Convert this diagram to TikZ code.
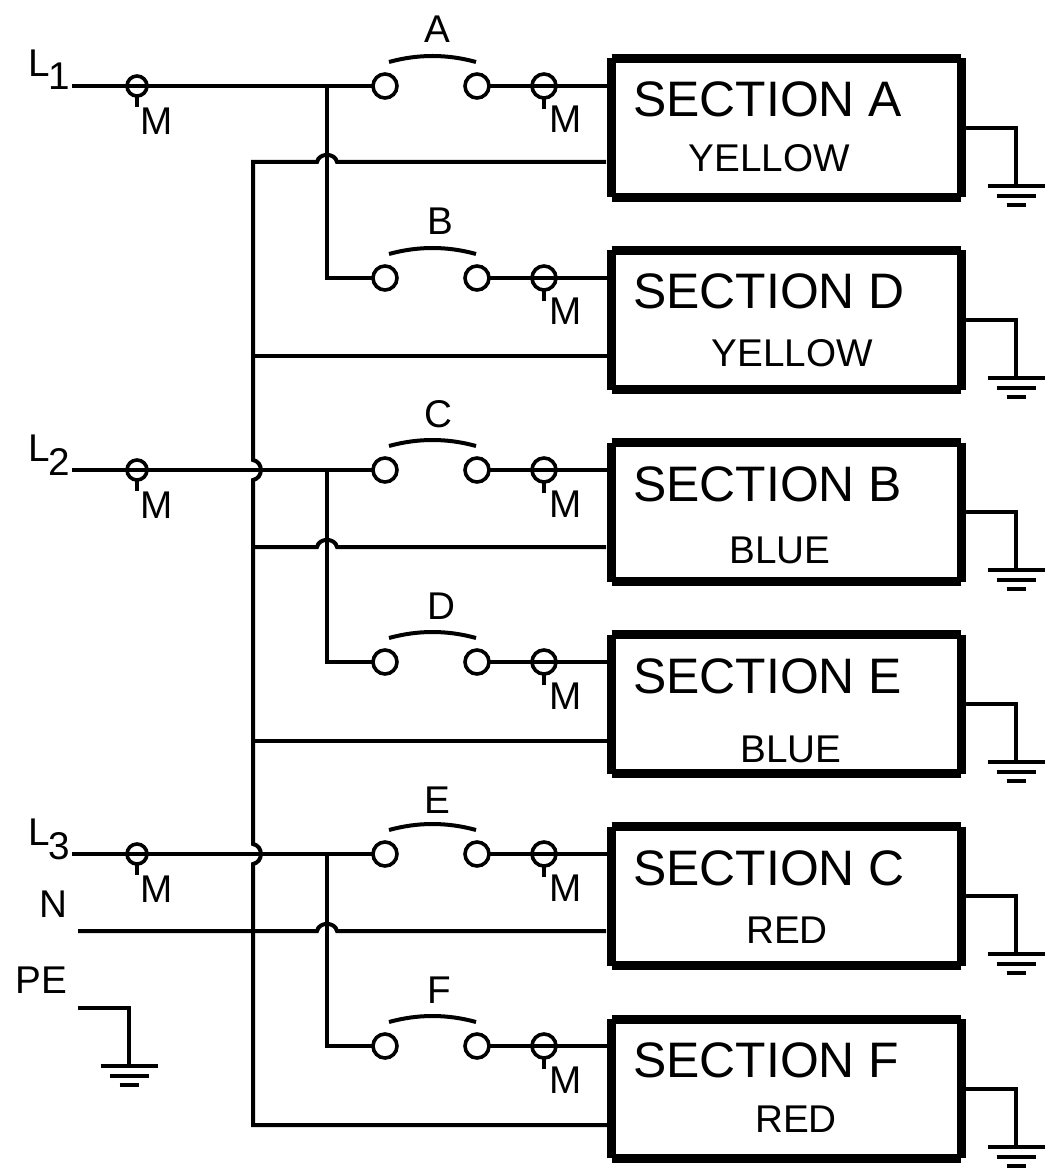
\documentclass[tikz,border=0pt]{standalone}
\usepackage{fontspec}
\setmainfont{Liberation Sans}

\tikzset{
	wire/.style={line width=3pt},
	boxedge/.style={draw,line width=6.75pt},
	sectionbox/.style={inner sep=0pt,outer sep=0pt,minimum width=262.1pt,minimum height=104.25pt,
		append after command={
			(\tikzlastnode.north west) edge[boxedge] (\tikzlastnode.north east)
			(\tikzlastnode.north east) edge[boxedge] (\tikzlastnode.south east)
			(\tikzlastnode.south east) edge[boxedge] (\tikzlastnode.south west)
			(\tikzlastnode.south west) edge[boxedge] (\tikzlastnode.north west)}},
	contact/.style={circle,draw,line width=2.7pt,inner sep=0pt,outer sep=0pt,minimum size=18pt},
	meterleft/.style={circle,draw,line width=2.7pt,inner sep=0pt,outer sep=0pt,minimum size=15pt},
	meterright/.style={circle,draw,line width=2.7pt,inner sep=0pt,outer sep=0pt,minimum size=18pt},
	txtbig/.style={anchor=base west,inner sep=0pt,font=\fontsize{37.4}{40}\selectfont},
	txtsmall/.style={anchor=base,inner sep=0pt,font=\fontsize{29}{31}\selectfont},
	groundbars/.pic={
		\draw[wire] (-28.5,0) -- (28.5,0);
		\draw[wire] (-19.5,-10) -- (19.5,-10);
		\draw[wire] (-9.5,-19) -- (9.5,-19);
	}
}

\begin{document}
\begin{tikzpicture}[x=0.75pt,y=0.75pt,yscale=-1,xscale=1]
	\useasboundingbox (0,0) rectangle (1055,1169);

	%Section boxes
	\node[sectionbox] (secA) at (786.25,127.75) {};
	\node[sectionbox] (secD) at (786.25,320) {};
	\node[sectionbox] (secB) at (786.25,512) {};
	\node[sectionbox] (secE) at (786.25,704) {};
	\node[sectionbox] (secC) at (786.25,896) {};
	\node[sectionbox] (secF) at (786.25,1088.5) {};

	%Free ends of the lines
	\coordinate (l1) at (72,86);
	\coordinate (l2) at (72,470);
	\coordinate (l3) at (72,854);
	\coordinate (neutral) at (78,931);
	\coordinate (pe) at (78,1008);
	\coordinate (jA) at (327,86);
	\coordinate (jC) at (327,470);
	\coordinate (jE) at (327,854);
	\coordinate (nA) at (606,162);
	\coordinate (nB) at (606,547);
	\coordinate (nC) at (606,931);
	\coordinate (busD) at (253,356);
	\coordinate (busB) at (253,547);
	\coordinate (busE) at (253,741);
	\coordinate (busF) at (253,1125);

	%Shape: Circle, line meters
	\node[meterleft] (mL1) at (137,86) {};
	\node[meterleft] (mL2) at (137,470) {};
	\node[meterleft] (mL3) at (137,854) {};

	%Shape: Circle, switch contacts
	\node[contact] (swA1) at (385,86) {};
	\node[contact] (swA2) at (477,86) {};
	\node[contact] (swB1) at (385,278) {};
	\node[contact] (swB2) at (477,278) {};
	\node[contact] (swC1) at (385,470) {};
	\node[contact] (swC2) at (477,470) {};
	\node[contact] (swD1) at (385,662) {};
	\node[contact] (swD2) at (477,662) {};
	\node[contact] (swE1) at (385,854) {};
	\node[contact] (swE2) at (477,854) {};
	\node[contact] (swF1) at (385,1046) {};
	\node[contact] (swF2) at (477,1046) {};

	%Shape: Circle, section meters
	\node[meterright] (mA) at (544,86) {};
	\node[meterright] (mB) at (544,278) {};
	\node[meterright] (mC) at (544,470) {};
	\node[meterright] (mD) at (544,662) {};
	\node[meterright] (mE) at (544,854) {};
	\node[meterright] (mF) at (544,1046) {};

	%Straight Lines, phases to first contacts
	\draw[wire] (l1) -- (swA1);
	\draw[wire] (l2) -- (swC1);
	\draw[wire] (l3) -- (swE1);
	\draw[wire] (jA) |- (swB1);
	\draw[wire] (jC) |- (swD1);
	\draw[wire] (jE) |- (swF1);

	%Straight Lines, second contacts to sections
	\draw[wire] (swA2) -- (secA.west |- swA2);
	\draw[wire] (swB2) -- (secD.west |- swB2);
	\draw[wire] (swC2) -- (secB.west |- swC2);
	\draw[wire] (swD2) -- (secE.west |- swD2);
	\draw[wire] (swE2) -- (secC.west |- swE2);
	\draw[wire] (swF2) -- (secF.west |- swF2);

	%Straight Lines, meter stems
	\draw[wire] (mL1.south) -- ++(0,11);
	\draw[wire] (mL2.south) -- ++(0,11);
	\draw[wire] (mL3.south) -- ++(0,11);
	\draw[wire] (mA.south) -- ++(0,11);
	\draw[wire] (mB.south) -- ++(0,11);
	\draw[wire] (mC.south) -- ++(0,11);
	\draw[wire] (mD.south) -- ++(0,11);
	\draw[wire] (mE.south) -- ++(0,11);
	\draw[wire] (mF.south) -- ++(0,11);

	%Curve Lines, switch blades
	\draw[wire] (389,62) .. controls (418,54) and (447,54) .. (476,62);
	\draw[wire] (389,254) .. controls (418,246) and (447,246) .. (476,254);
	\draw[wire] (389,446) .. controls (418,438) and (447,438) .. (476,446);
	\draw[wire] (389,638) .. controls (418,630) and (447,630) .. (476,638);
	\draw[wire] (389,830) .. controls (418,822) and (447,822) .. (476,830);
	\draw[wire] (389,1022) .. controls (418,1014) and (447,1014) .. (476,1022);

	%Neutral bus, with its jumps
	\draw[wire] (nA) -- (337,162) .. controls (335,152.5) and (319,152.5) .. (317,162) -- (253,162) -- (253,460) .. controls (263.5,462) and (263.5,478) .. (253,480) -- (253,844) .. controls (263.5,846) and (263.5,862) .. (253,864) -- (busF) -- (secF.west |- busF);
	\draw[wire] (busD) -- (secD.west |- busD);
	\draw[wire] (busB) -- (317,547) .. controls (319,537.5) and (335,537.5) .. (337,547) -- (nB);
	\draw[wire] (busE) -- (secE.west |- busE);
	\draw[wire] (neutral) -- (317,931) .. controls (319,921.5) and (335,921.5) .. (337,931) -- (nC);

	%Earth
	\coordinate (gA) at (1016,186);
	\coordinate (gD) at (1016,378);
	\coordinate (gB) at (1016,570);
	\coordinate (gE) at (1016,762);
	\coordinate (gC) at (1016,954);
	\coordinate (gF) at (1016,1147);
	\coordinate (gPE) at (129,1066);
	\draw[wire] (secA.east) -| (gA);
	\draw[wire] (secD.east) -| (gD);
	\draw[wire] (secB.east) -| (gB);
	\draw[wire] (secE.east) -| (gE);
	\draw[wire] (secC.east) -| (gC);
	\draw[wire] (secF.east) -| (gF);
	\draw[wire] (pe) -| (gPE);
	\pic at (gA) {groundbars};
	\pic at (gD) {groundbars};
	\pic at (gB) {groundbars};
	\pic at (gE) {groundbars};
	\pic at (gC) {groundbars};
	\pic at (gF) {groundbars};
	\pic at (gPE) {groundbars};

	% Text Node
	\node[txtbig] (titleA) at (633,117) {SECTION A};
	\node[txtbig] (titleD) at (633,309) {SECTION D};
	\node[txtbig] (titleB) at (633,501) {SECTION B};
	\node[txtbig] (titleE) at (633,693) {SECTION E};
	\node[txtbig] (titleC) at (633,885) {SECTION C};
	\node[txtbig] (titleF) at (633,1077) {SECTION F};
	% Text Node
	\node[txtsmall] (colA) at (769,172) {YELLOW};
	\node[txtsmall] (colD) at (792,366) {YELLOW};
	\node[txtsmall] (colB) at (780,563) {BLUE};
	\node[txtsmall] (colE) at (791,762) {BLUE};
	\node[txtsmall] (colC) at (787,943) {RED};
	\node[txtsmall] (colF) at (796,1132) {RED};
	% Text Node
	\node[txtsmall] (nameA) at (437,43) {A};
	\node[txtsmall] (nameB) at (440,235) {B};
	\node[txtsmall] (nameC) at (438,427) {C};
	\node[txtsmall] (nameD) at (441,619) {D};
	\node[txtsmall] (nameE) at (437,813) {E};
	\node[txtsmall] (nameF) at (439,1003) {F};
	% Text Node
	\node[txtsmall] (tagL1) at (157,135) {M};
	\node[txtsmall] (tagL2) at (157,518) {M};
	\node[txtsmall] (tagL3) at (157,902) {M};
	\node[txtsmall] (tagA) at (566,133) {M};
	\node[txtsmall] (tagB) at (566,325) {M};
	\node[txtsmall] (tagC) at (566,517) {M};
	\node[txtsmall] (tagD) at (566,709) {M};
	\node[txtsmall] (tagE) at (566,901) {M};
	\node[txtsmall] (tagF) at (566,1093) {M};
	% Text Node
	\node[txtsmall,anchor=base west] (phase1) at (28.5,77) {L\kern-1pt\raisebox{-9.5pt}{1}};
	\node[txtsmall,anchor=base west] (phase2) at (28.5,461) {L\kern-1pt\raisebox{-10.5pt}{2}};
	\node[txtsmall,anchor=base west] (phase3) at (28.5,845) {L\kern-1pt\raisebox{-10.5pt}{3}};
	\node[txtsmall] (labN) at (53.5,917) {N};
	\node[txtsmall] (labPE) at (41,993) {PE};

\end{tikzpicture}
\end{document}
